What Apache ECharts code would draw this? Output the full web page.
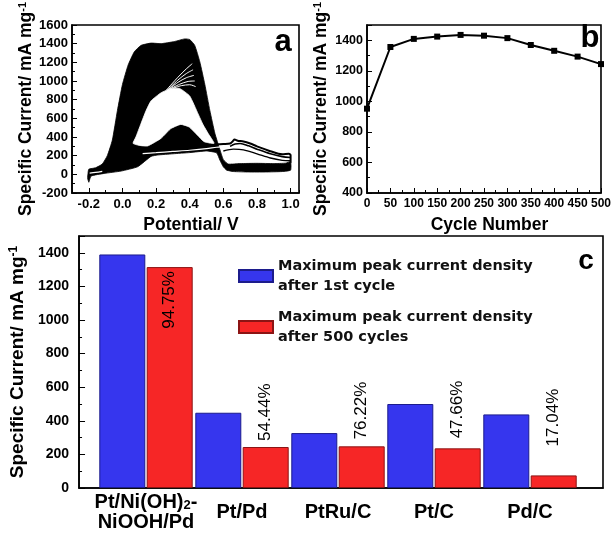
<!DOCTYPE html>
<html>
<head>
<meta charset="utf-8">
<script src="https://cdn.jsdelivr.net/npm/echarts@6/dist/echarts.min.js"></script>
<style>
html,body{margin:0;padding:0;background:#fff;}
#chart{width:614px;height:533px;}
</style>
</head>
<body>
<div id="chart"></div>
<script>
// ---------- Panel a: CV curves (outlines of the overlapping cycles) ----------
const cvEnvelope = [
  [-0.2,-85],[-0.207,-45],[-0.205,10],[-0.2,55],[-0.16,70],[-0.12,110],[-0.09,200],[-0.06,367],
  [-0.03,682],[0.0,962],[0.034,1172],[0.07,1311],[0.11,1381],[0.17,1406],[0.23,1400],[0.31,1423],
  [0.37,1451],[0.40,1444],[0.43,1381],[0.46,1206],[0.49,962],[0.52,682],[0.55,437],[0.58,262],
  [0.60,157],[0.63,110],[0.70,115],[0.80,118],[0.90,115],[0.97,120],[1.0,135],[1.0,45],
  [0.95,30],[0.85,25],[0.75,25],[0.66,30],[0.62,45],[0.60,80],[0.58,150],[0.56,230],
  [0.50,250],[0.40,233],[0.30,220],[0.21,207],[0.17,192],[0.09,81],[-0.008,35],[-0.107,10],
  [-0.186,-18],[-0.2,-85]
];
const cvHollow = [
  [0.063,332],[0.08,400],[0.11,542],[0.14,680],[0.17,787],[0.23,874],[0.29,920],[0.34,920],
  [0.40,839],[0.45,647],[0.48,530],[0.51,437],[0.545,332],[0.486,350],[0.446,420],[0.397,507],
  [0.347,535],[0.288,490],[0.229,385],[0.15,304],[0.1,310]
];
const cvReverseGap = [[0.12,222],[0.2,232],[0.3,245],[0.4,258],[0.5,275],[0.56,290],[0.62,300]];
const cvStartGap = [[-0.195,12],[-0.16,20],[-0.12,32]];
const cvForwardGaps = [
  [[0.26,900],[0.33,1040],[0.38,1130],[0.415,1185]],
  [[0.265,898],[0.33,1010],[0.38,1080],[0.42,1120]],
  [[0.27,905],[0.33,985],[0.38,1035],[0.425,1060]],
  [[0.28,912],[0.34,965],[0.39,995],[0.43,1000]],
  [[0.30,922],[0.35,950],[0.40,960],[0.435,940]]
];
const cvLoopUpper = [[0.55,322],[0.60,325],[0.64,330],[0.655,352],[0.667,372],[0.685,360],[0.72,352],
  [0.76,330],[0.80,300],[0.88,248],[0.95,215],[0.99,220],[1.0,205],[1.0,125]];
const cvLoopMiddle = [[0.64,300],[0.67,325],[0.70,330],[0.75,305],[0.80,270],[0.88,220],[0.95,190],[1.0,180]];
const cvLoopLower = [[0.60,250],[0.66,270],[0.72,262],[0.80,220],[0.88,175],[0.95,150],[1.0,145]];
const potentialTicks = [-0.2,0,0.2,0.4,0.6,0.8,1.0];

// ---------- Panel b: peak current vs cycle number ----------
const cycleNumbers = [0,50,100,150,200,250,300,350,400,450,500];
const peakCurrent = [952,1356,1409,1424,1435,1430,1414,1369,1331,1293,1244];

// ---------- Panel c: bar chart ----------
const catalysts = ['Pt/Ni(OH)2-NiOOH/Pd','Pt/Pd','PtRu/C','Pt/C','Pd/C'];
const firstCycle = [1390,448,327,500,438];
const after500 = [1315,244,248,236,75];
const retention = ['94.75%','54.44%','76.22%','47.66%','17.04%'];
const legendNames = ['Maximum peak current density\nafter 1st cycle','Maximum peak current density\nafter 500 cycles'];

const FF = 'Liberation Sans, Arial, sans-serif';
const chart = echarts.init(document.getElementById('chart'), null, {renderer:'canvas'});

function polygonSeries(points, color, z) {
  return {
    type:'custom', coordinateSystem:'cartesian2d', xAxisIndex:0, yAxisIndex:0,
    data:[[0,0]], silent:true, z:z, clip:true,
    renderItem:function(params, api){
      return {type:'polygon', shape:{points:points.map(p=>api.coord(p)), smooth:0.15},
        style:{fill:color, stroke:color, lineWidth:0.8}};
    }
  };
}
function lineSeries(points, color, width, z) {
  return {type:'line', xAxisIndex:0, yAxisIndex:0, data:points, symbol:'none', smooth:0.3,
    lineStyle:{color:color, width:width}, silent:true, z:z, clip:true};
}

const nameStyle = (size) => ({fontFamily:FF, fontWeight:'bold', fontSize:size, color:'#000',
  rich:{sup:{fontFamily:FF, fontWeight:'bold', fontSize:Math.round(size*0.62), verticalAlign:'top', color:'#000'}}});
const yTitle = 'Specific Current/ mA mg{sup|-1}';
const plain = v => String(v);
const labelDistance = [4, 6, 7, 10, 29];

const series = [
  polygonSeries(cvEnvelope,'#000',2),
  polygonSeries(cvHollow,'#fff',3),
  lineSeries(cvReverseGap,'#fff',1.2,4),
  lineSeries(cvStartGap,'#fff',1.2,4),
  ...cvForwardGaps.map(g=>lineSeries(g,'#fff',1,4)),
  lineSeries(cvLoopUpper,'#000',2,5),
  lineSeries(cvLoopMiddle,'#000',1.6,5),
  lineSeries(cvLoopLower,'#000',1.4,5),
  {type:'line', xAxisIndex:2, yAxisIndex:1, data:cycleNumbers.map((c,i)=>[c,peakCurrent[i]]),
    symbol:'rect', symbolSize:6, itemStyle:{color:'#000'}, lineStyle:{color:'#000', width:2}, z:5},
  {type:'bar', name:legendNames[0], xAxisIndex:4, yAxisIndex:3, data:firstCycle, barWidth:46, barGap:'3%',
    itemStyle:{color:'#3636ee', borderColor:'#1c1c8c', borderWidth:1}},
  {type:'bar', name:legendNames[1], xAxisIndex:4, yAxisIndex:3,
    data:after500.map((v,i)=> i===0
      ? {value:v, label:{position:'insideTop', align:'right', distance:labelDistance[i]}}
      : {value:v, label:{distance:labelDistance[i]}}),
    barWidth:46, barGap:'3%',
    itemStyle:{color:'#f62626', borderColor:'#8c1414', borderWidth:1},
    label:{show:true, position:'top', rotate:90, align:'left', verticalAlign:'middle', distance:6,
      formatter:p=>retention[p.dataIndex], fontFamily:FF, fontSize:17, color:'#000'}}
];

const axisLine = {show:true, onZero:false, lineStyle:{color:'#000', width:1.6}};
const option = {
  animation:false,
  backgroundColor:'#fff',
  grid:[
    {left:72, right:315, top:22, bottom:340, show:true, borderColor:'#000', borderWidth:1.6},
    {left:367, right:12, top:21, bottom:340, show:true, borderColor:'#000', borderWidth:1.6},
    {left:74, right:11, top:236, bottom:45, show:true, borderColor:'#000', borderWidth:1.6},
    {left:98, right:36, top:236, bottom:45}
  ],
  xAxis:[
    {gridIndex:0, type:'value', min:-0.3, max:1.05, position:'bottom', axisLine:axisLine,
      axisTick:{inside:true, length:5, customValues:potentialTicks, lineStyle:{color:'#000'}},
      axisLabel:{customValues:potentialTicks, formatter:v=>Number(v).toFixed(1), fontFamily:FF, fontWeight:'bold', fontSize:13, color:'#000', margin:5},
      splitLine:{show:false},
      name:'Potential/ V', nameLocation:'middle', nameGap:23, nameTextStyle:Object.assign(nameStyle(17.5),{padding:[0,0,0,11]})},
    {gridIndex:0, type:'value', min:-0.3, max:1.05, interval:0.1, position:'bottom',
      axisLine:{show:false, onZero:false}, axisTick:{inside:true, length:3, lineStyle:{color:'#000'}},
      axisLabel:{show:false}, splitLine:{show:false}},
    {gridIndex:1, type:'value', min:0, max:500, interval:50, position:'bottom', axisLine:axisLine,
      axisTick:{inside:true, length:5, lineStyle:{color:'#000'}},
      minorTick:{show:true, splitNumber:2, length:3, lineStyle:{color:'#000'}},
      axisLabel:{formatter:plain, fontFamily:FF, fontWeight:'bold', fontSize:12, color:'#000', margin:5},
      splitLine:{show:false},
      name:'Cycle Number', nameLocation:'middle', nameGap:23, nameTextStyle:Object.assign(nameStyle(17.5),{padding:[0,0,0,11]})},
    {gridIndex:2, type:'value', min:0, max:1, position:'bottom', axisLine:axisLine,
      axisTick:{show:false}, axisLabel:{show:false}, splitLine:{show:false}},
    {gridIndex:3, type:'category', data:catalysts, position:'bottom',
      axisLine:{show:false, onZero:false}, axisTick:{show:false}, splitLine:{show:false},
      axisLabel:{interval:0, margin:24, verticalAlign:'middle', lineHeight:20,
        fontFamily:FF, fontWeight:'bold', fontSize:20, color:'#000',
        formatter:v=> v.indexOf('Ni(OH)2')>=0 ? v.replace('Ni(OH)2-','Ni(OH){sub|2}-\n') : v,
        rich:{sub:{fontFamily:FF, fontWeight:'bold', fontSize:13, verticalAlign:'bottom', lineHeight:20, color:'#000'}}}}
  ],
  yAxis:[
    {gridIndex:0, type:'value', min:-200, max:1600, interval:200, axisLine:axisLine,
      axisTick:{inside:true, length:5, lineStyle:{color:'#000'}},
      minorTick:{show:true, splitNumber:2, length:3, lineStyle:{color:'#000'}},
      axisLabel:{formatter:plain, fontFamily:FF, fontWeight:'bold', fontSize:13, color:'#000', margin:4},
      splitLine:{show:false},
      name:yTitle, nameLocation:'middle', nameGap:31, nameTextStyle:nameStyle(17.5)},
    {gridIndex:1, type:'value', min:400, max:1500, interval:200, axisLine:axisLine,
      axisTick:{inside:true, length:5, lineStyle:{color:'#000'}},
      minorTick:{show:true, splitNumber:2, length:3, lineStyle:{color:'#000'}},
      axisLabel:{formatter:plain, showMaxLabel:false, fontFamily:FF, fontWeight:'bold', fontSize:12.5, color:'#000', margin:4},
      splitLine:{show:false},
      name:yTitle, nameLocation:'middle', nameGap:37, nameTextStyle:nameStyle(17.5)},
    {gridIndex:2, type:'value', min:0, max:1500, interval:200, axisLine:axisLine,
      axisTick:{inside:true, length:6, lineStyle:{color:'#000'}},
      minorTick:{show:true, splitNumber:2, length:3, lineStyle:{color:'#000'}},
      axisLabel:{formatter:plain, showMaxLabel:false, fontFamily:FF, fontWeight:'bold', fontSize:14, color:'#000', margin:10},
      splitLine:{show:false},
      name:yTitle, nameLocation:'middle', nameGap:48, nameTextStyle:nameStyle(19)},
    {gridIndex:3, type:'value', min:0, max:1500, show:false}
  ],
  legend:{orient:'vertical', left:233, top:251, itemWidth:34, itemHeight:12, itemGap:11, icon:'rect',
    data:legendNames, textStyle:{fontFamily:'DejaVu Sans', fontWeight:'bold', fontSize:14.5, lineHeight:20, color:'#111'}},
  graphic:[
    {type:'text', x:283, y:42, style:{text:'a', fontFamily:FF, fontWeight:'bold', fontSize:31, fill:'#000', align:'center', verticalAlign:'middle', textAlign:'center', textVerticalAlign:'middle'}},
    {type:'text', x:590, y:38, style:{text:'b', fontFamily:FF, fontWeight:'bold', fontSize:31, fill:'#000', align:'center', verticalAlign:'middle', textAlign:'center', textVerticalAlign:'middle'}},
    {type:'text', x:586, y:261, style:{text:'c', fontFamily:FF, fontWeight:'bold', fontSize:28, fill:'#000', align:'center', verticalAlign:'middle', textAlign:'center', textVerticalAlign:'middle'}}
  ],
  series:series
};
chart.setOption(option);
</script>
</body>
</html>
